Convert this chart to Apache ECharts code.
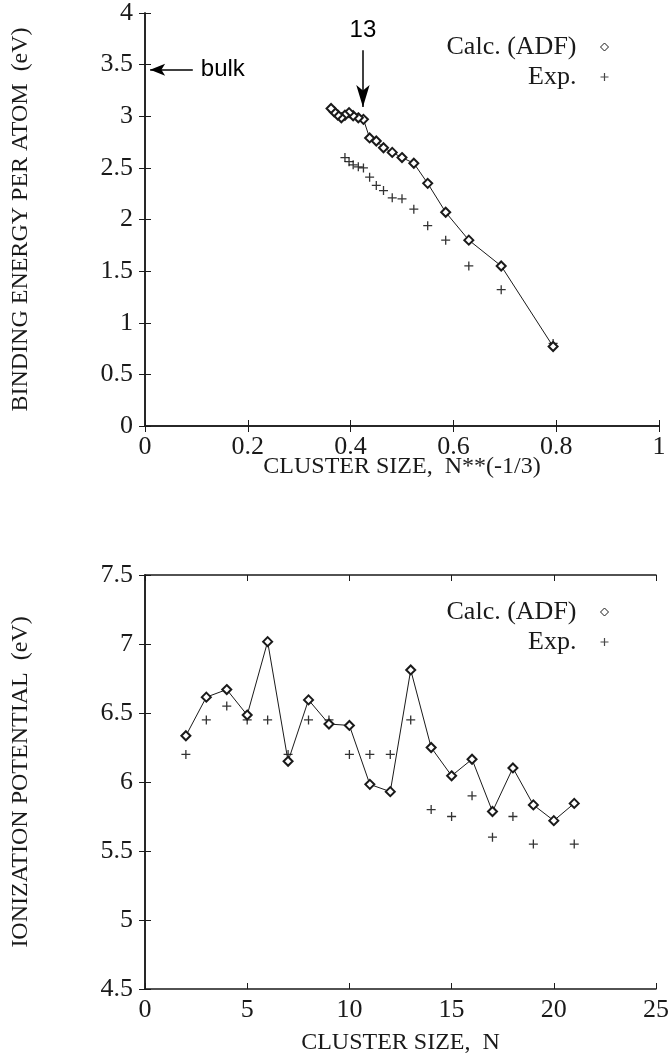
<!DOCTYPE html>
<html>
<head>
<meta charset="utf-8">
<script src="https://cdn.jsdelivr.net/npm/echarts@6/dist/echarts.min.js"></script>
<style>
  html, body { margin: 0; padding: 0; background: #fff; }
  #chart { width: 672px; height: 1059px; }
</style>
</head>
<body>
<div id="chart"></div>
<script>
// cluster sizes N = 2..21
const sizes = [2, 3, 4, 5, 6, 7, 8, 9, 10, 11, 12, 13, 14, 15, 16, 17, 18, 19, 20, 21];
// N**(-1/3) positions
const invCbrt = [0.794, 0.693, 0.630, 0.585, 0.550, 0.523, 0.500, 0.481, 0.464, 0.450,
                 0.437, 0.425, 0.415, 0.405, 0.397, 0.389, 0.382, 0.375, 0.368, 0.362];

// binding energy per atom (eV)
const bindCalc = [0.77, 1.55, 1.80, 2.07, 2.35, 2.545, 2.60, 2.65, 2.695, 2.76,
                  2.79, 2.97, 2.985, 3.005, 3.035, 3.01, 2.985, 3.012, 3.043, 3.075];
const bindExp = [0.80, 1.32, 1.55, 1.80, 1.94, 2.10, 2.20, 2.21, 2.28, 2.33,
                 2.41, 2.50, 2.51, 2.53, 2.56, 2.60];   // N = 2..17

// ionization potential (eV)
const ipCalc = [6.335, 6.615, 6.67, 6.485, 7.017, 6.15, 6.595, 6.42, 6.41, 5.983,
                5.93, 6.812, 6.25, 6.045, 6.165, 5.786, 6.102, 5.834, 5.72, 5.845];
const ipExp = [6.2, 6.45, 6.55, 6.45, 6.45, 6.2, 6.45, 6.45, 6.2, 6.2,
               6.2, 6.45, 5.8, 5.75, 5.9, 5.6, 5.75, 5.55, 5.72, 5.55];

const seriesNames = ['Calc. (ADF)', 'Exp.'];

const serif = 'Liberation Serif';
const sans = 'Liberation Sans';
const ink = '#1a1a1a';
const plusPath = 'path://M0,5L10,5M5,0L5,10';

const chart = echarts.init(document.getElementById('chart'), null, { renderer: 'canvas' });

function pairs(xs, ys) {
    return ys.map((y, i) => [xs[i], y]);
}

function axisPair(grid, min, max, interval, name, nameGap, isX) {
    const main = {
        type: 'value', gridIndex: grid, min: min, max: max, interval: interval,
        position: isX ? 'bottom' : 'left',
        name: name, nameLocation: 'middle', nameGap: nameGap,
        nameMoveOverlap: false,
        nameRotate: isX ? 0 : 90,
        nameTextStyle: { fontFamily: serif, fontSize: 24, color: ink },
        axisLine: { show: true, lineStyle: { color: ink, width: 1.5 } },
        axisTick: { show: true, inside: true, length: 6, lineStyle: { color: ink, width: 1 } },
        axisLabel: { fontFamily: serif, fontSize: 26, color: ink, margin: isX ? 8 : 12 },
        splitLine: { show: false }
    };
    const mirror = {
        type: 'value', gridIndex: grid, min: min, max: max, interval: interval,
        position: isX ? 'top' : 'right',
        axisLine: { show: true, lineStyle: { color: ink, width: 1.5 } },
        axisTick: { show: true, inside: true, length: 6, lineStyle: { color: ink, width: 1 } },
        axisLabel: { show: false },
        splitLine: { show: false }
    };
    return [main, mirror];
}

function legendFor(top) {
    return {
        orient: 'vertical', align: 'right', right: 56, top: top,
        itemWidth: 8, itemHeight: 8, itemGap: 4,
        selectedMode: false,
        textStyle: { fontFamily: serif, fontSize: 26, color: ink, lineHeight: 26, padding: [0, 19, 0, 0] },
        data: [
            { name: seriesNames[0], icon: 'diamond', itemStyle: { color: '#fff', borderColor: ink, borderWidth: 1 } },
            { name: seriesNames[1], icon: plusPath, itemStyle: { color: 'none', borderColor: ink, borderWidth: 1.2 } }
        ]
    };
}

const calcLine = {
    type: 'line',
    symbol: 'emptyDiamond', symbolSize: 9,
    showAllSymbol: true,
    lineStyle: { color: ink, width: 1 },
    itemStyle: { color: ink, borderColor: ink, borderWidth: 1 },
    animation: false
};
const expDots = {
    type: 'scatter',
    symbol: plusPath, symbolSize: 9,
    itemStyle: { color: 'none', borderColor: '#000', borderWidth: 1.3 },
    animation: false
};

const option = {
    animation: false,
    backgroundColor: '#fff',
    grid: [
        { left: 145, right: 13, top: 12, height: 414 },
        { left: 145, right: 13, top: 575, height: 414 }
    ],
    xAxis: [
        ...axisPair(0, 0, 1, 0.2, 'CLUSTER SIZE,  N**(-1/3)', 29, true),
        ...axisPair(1, 0, 25, 5, 'CLUSTER SIZE,  N', 42, true)
    ],
    yAxis: [
        ...axisPair(0, 0, 4, 0.5, 'BINDING ENERGY PER ATOM  (eV)', 112, false),
        ...axisPair(1, 4.5, 7.5, 0.5, 'IONIZATION POTENTIAL  (eV)', 112, false)
    ],
    legend: [legendFor(29), legendFor(594)],
    series: [
        Object.assign({}, calcLine, {
            name: seriesNames[0], xAxisIndex: 0, yAxisIndex: 0,
            data: pairs(invCbrt, bindCalc),
            markLine: {
                silent: true,
                animation: false,
                symbol: ['none', 'arrow'],
                lineStyle: { color: '#000', width: 1.5, type: 'solid' },
                label: { show: true, position: 'start', distance: 8,
                         fontFamily: sans, fontSize: 24, color: '#000' },
                data: [
                    [{ coord: [0.093, 3.45], label: { formatter: 'bulk' } },
                     { coord: [0.01, 3.45], symbolSize: [9, 15] }],
                    [{ coord: [0.424, 3.64], label: { formatter: '13' } },
                     { coord: [0.424, 3.09], symbolSize: [10, 22] }]
                ]
            }
        }),
        Object.assign({}, expDots, {
            name: seriesNames[1], xAxisIndex: 0, yAxisIndex: 0,
            data: pairs(invCbrt, bindExp)
        }),
        Object.assign({}, calcLine, {
            name: seriesNames[0], xAxisIndex: 2, yAxisIndex: 2,
            data: pairs(sizes, ipCalc)
        }),
        Object.assign({}, expDots, {
            name: seriesNames[1], xAxisIndex: 2, yAxisIndex: 2,
            data: pairs(sizes, ipExp)
        })
    ]
};

chart.setOption(option);

window.addEventListener('resize', function() {
    chart.resize();
});
</script>
</body>
</html>
